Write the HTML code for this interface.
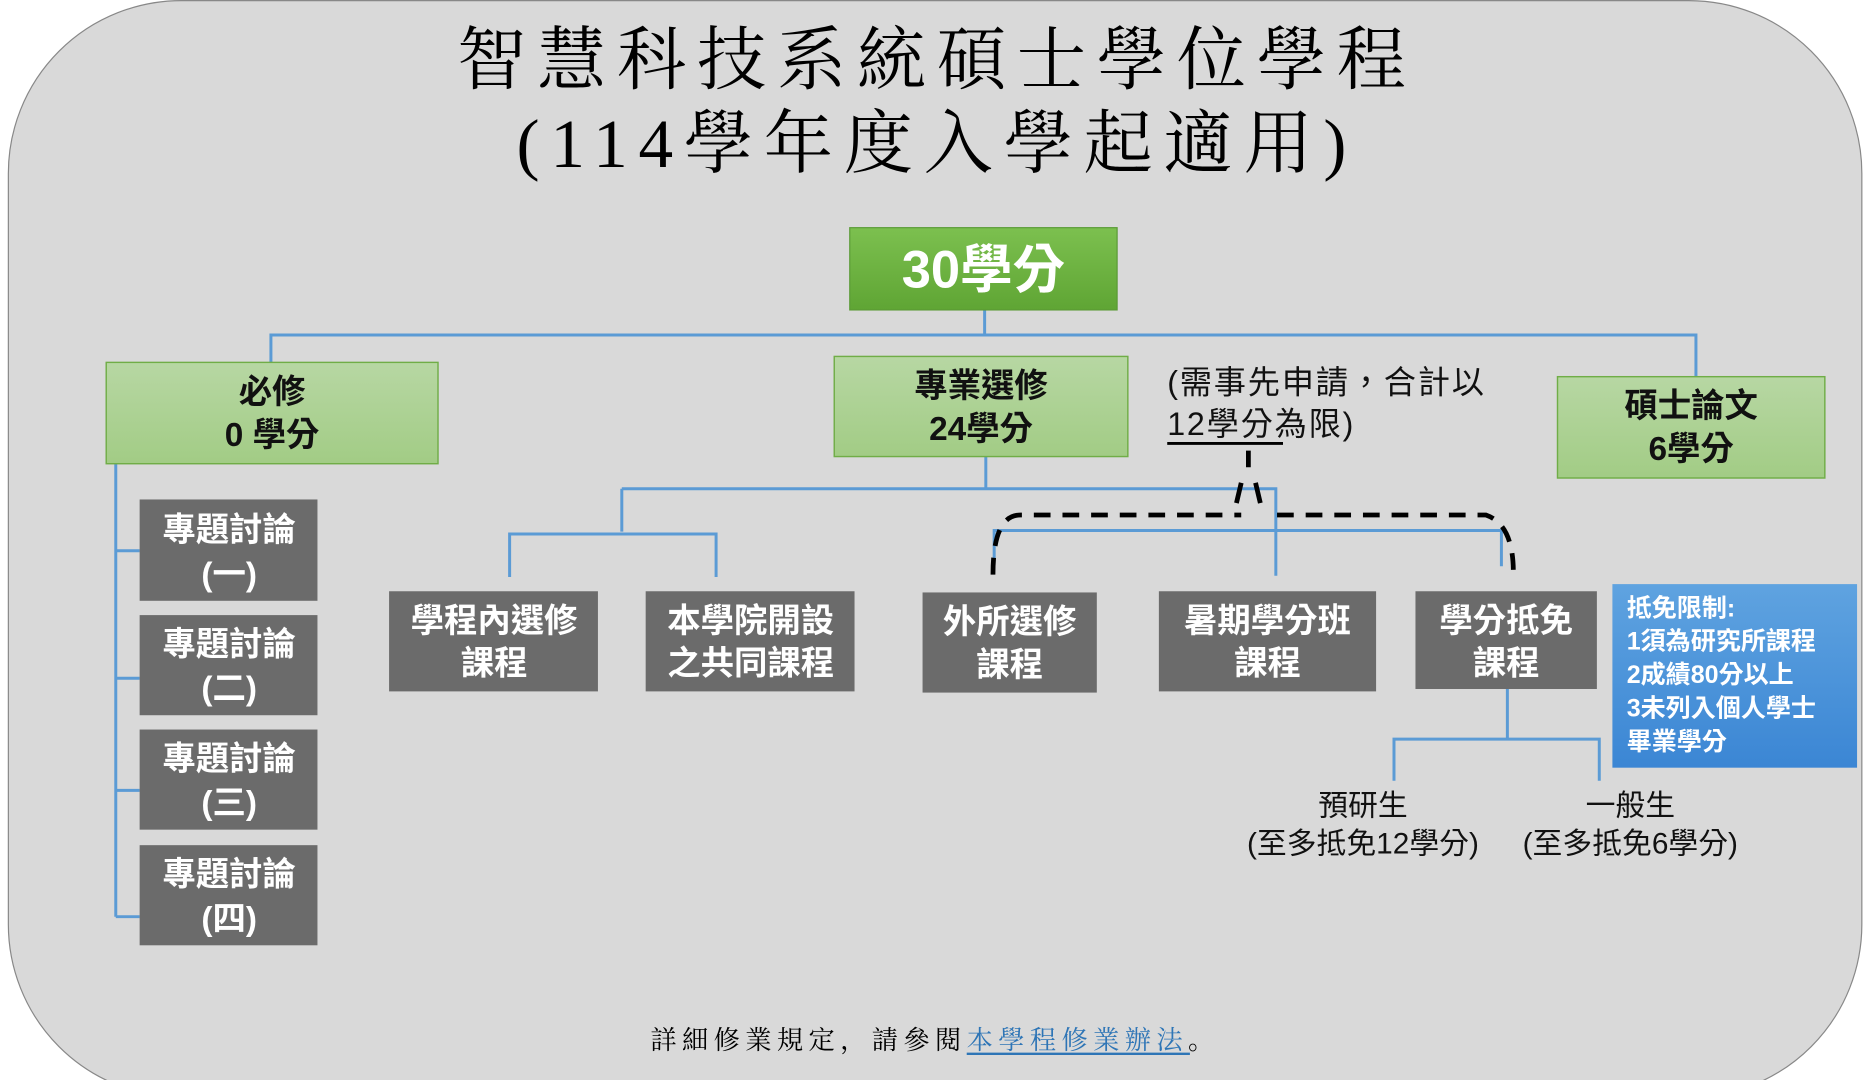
<!DOCTYPE html>
<html><head><meta charset="utf-8"><style>
html,body{margin:0;padding:0;background:#fff;width:1869px;height:1080px;overflow:hidden}
svg{display:block}
.s{font-family:"Liberation Sans","Noto Sans CJK TC",sans-serif}
.r{font-family:"Liberation Serif","Noto Serif CJK SC",serif}
</style></head><body>
<svg width="1869" height="1080" viewBox="0 0 1566 906" preserveAspectRatio="none" xmlns="http://www.w3.org/2000/svg">
<defs>
<linearGradient id="g1" x1="0" y1="0" x2="0" y2="1"><stop offset="0" stop-color="#7cc04f"/><stop offset="1" stop-color="#5fa534"/></linearGradient>
<linearGradient id="g2" x1="0" y1="0" x2="0" y2="1"><stop offset="0" stop-color="#b7d7a3"/><stop offset="1" stop-color="#a2cc85"/></linearGradient>
<linearGradient id="g3" x1="0" y1="0" x2="0" y2="1"><stop offset="0" stop-color="#5fa3e0"/><stop offset="1" stop-color="#3b86d4"/></linearGradient>
</defs>
<rect x="7" y="0.5" width="1553" height="920" rx="145" ry="145" fill="#d9d9d9" stroke="#888" stroke-width="1"/>
<g class="r" fill="#000" text-anchor="middle">
<text x="785" y="70" font-size="58" letter-spacing="9">智慧科技系統碩士學位學程</text>
<text x="785" y="140" font-size="58" letter-spacing="9">(114學年度入學起適用)</text>
</g>
<g stroke="#5b9bd5" stroke-width="2.5" fill="none">
<path d="M825 260V281M227 304V281H1421V316"/>
<path d="M97 389V769M97 462H117M97 569H117M97 663H117M97 769H117"/>
<path d="M826 383V410M521 410H1069V483M521 410V446M427 484V448H600V484"/>
<path d="M833 470V445H1258V475"/>
<path d="M1263 578V620M1168 655V620H1340V655"/>
</g>
<rect x="712" y="191" width="224" height="69" fill="url(#g1)" stroke="#5a9a35"/>
<text x="824" y="241" class="s" font-size="44" font-weight="bold" fill="#fff" text-anchor="middle">30學分</text>
<g fill="url(#g2)" stroke="#70ad47" stroke-width="1.2">
<rect x="89" y="304" width="278" height="85"/>
<rect x="699" y="299" width="246" height="84"/>
<rect x="1305" y="316" width="224" height="85"/>
</g>
<g class="s" font-size="28" font-weight="bold" fill="#111" text-anchor="middle">
<text x="228" y="338">必修</text><text x="228" y="374">0 學分</text>
<text x="822" y="333">專業選修</text><text x="822" y="369">24學分</text>
<text x="1417" y="350">碩士論文</text><text x="1417" y="386">6學分</text>
</g>
<g class="s" font-size="27" fill="#111" letter-spacing="1.5">
<text x="978" y="330">(需事先申請，合計以</text>
<text x="978" y="365">12學分為限)</text>
</g>
<line x1="978" y1="372" x2="1075" y2="372" stroke="#000" stroke-width="2.5"/>
<g fill="#6b6b6b">
<rect x="117" y="419" width="149" height="85"/><rect x="117" y="516" width="149" height="84"/>
<rect x="117" y="612" width="149" height="84"/><rect x="117" y="709" width="149" height="84"/>
<rect x="326" y="496" width="175" height="84"/><rect x="541" y="496" width="175" height="84"/>
<rect x="773" y="497" width="146" height="84"/><rect x="971" y="496" width="182" height="84"/>
<rect x="1186" y="496" width="152" height="82"/>
</g>
<g class="s" font-size="28" font-weight="bold" fill="#fff" text-anchor="middle">
<text x="192" y="454">專題討論</text><text x="192" y="491">(一)</text>
<text x="192" y="550">專題討論</text><text x="192" y="587">(二)</text>
<text x="192" y="646">專題討論</text><text x="192" y="683">(三)</text>
<text x="192" y="743">專題討論</text><text x="192" y="780">(四)</text>
<text x="414" y="530">學程內選修</text><text x="414" y="566">課程</text>
<text x="629" y="530">本學院開設</text><text x="629" y="566">之共同課程</text>
<text x="846" y="531">外所選修</text><text x="846" y="567">課程</text>
<text x="1062" y="530">暑期學分班</text><text x="1062" y="566">課程</text>
<text x="1262" y="530">學分抵免</text><text x="1262" y="566">課程</text>
</g>
<g stroke="#000" stroke-width="4" fill="none" stroke-dasharray="14 10">
<path d="M832 482Q832 432 855 432H1040"/>
<path d="M1070 432H1245Q1268 440 1268 480"/>
<path d="M1046 378V392M1040 405L1036 422M1052 405L1056 422" stroke-dasharray="none"/>
</g>
<rect x="1351" y="490" width="205" height="154" fill="url(#g3)"/>
<g class="s" font-size="21" font-weight="bold" fill="#fff">
<text x="1363" y="517">抵免限制:</text><text x="1363" y="545">1須為研究所課程</text>
<text x="1363" y="573">2成績80分以上</text><text x="1363" y="601">3未列入個人學士</text>
<text x="1363" y="629">畢業學分</text>
</g>
<g class="s" font-size="25" fill="#111" text-anchor="middle">
<text x="1142" y="684">預研生</text><text x="1142" y="716">(至多抵免12學分)</text>
<text x="1366" y="684">一般生</text><text x="1366" y="716">(至多抵免6學分)</text>
</g>
<text x="545" y="880" class="r" font-size="22" fill="#000" letter-spacing="4.5">詳細修業規定，請參閱<tspan fill="#2e75b6">本學程修業辦法</tspan>。</text>
<line x1="810" y1="884" x2="997" y2="884" stroke="#2e75b6" stroke-width="2"/>
</svg>
</body></html>
